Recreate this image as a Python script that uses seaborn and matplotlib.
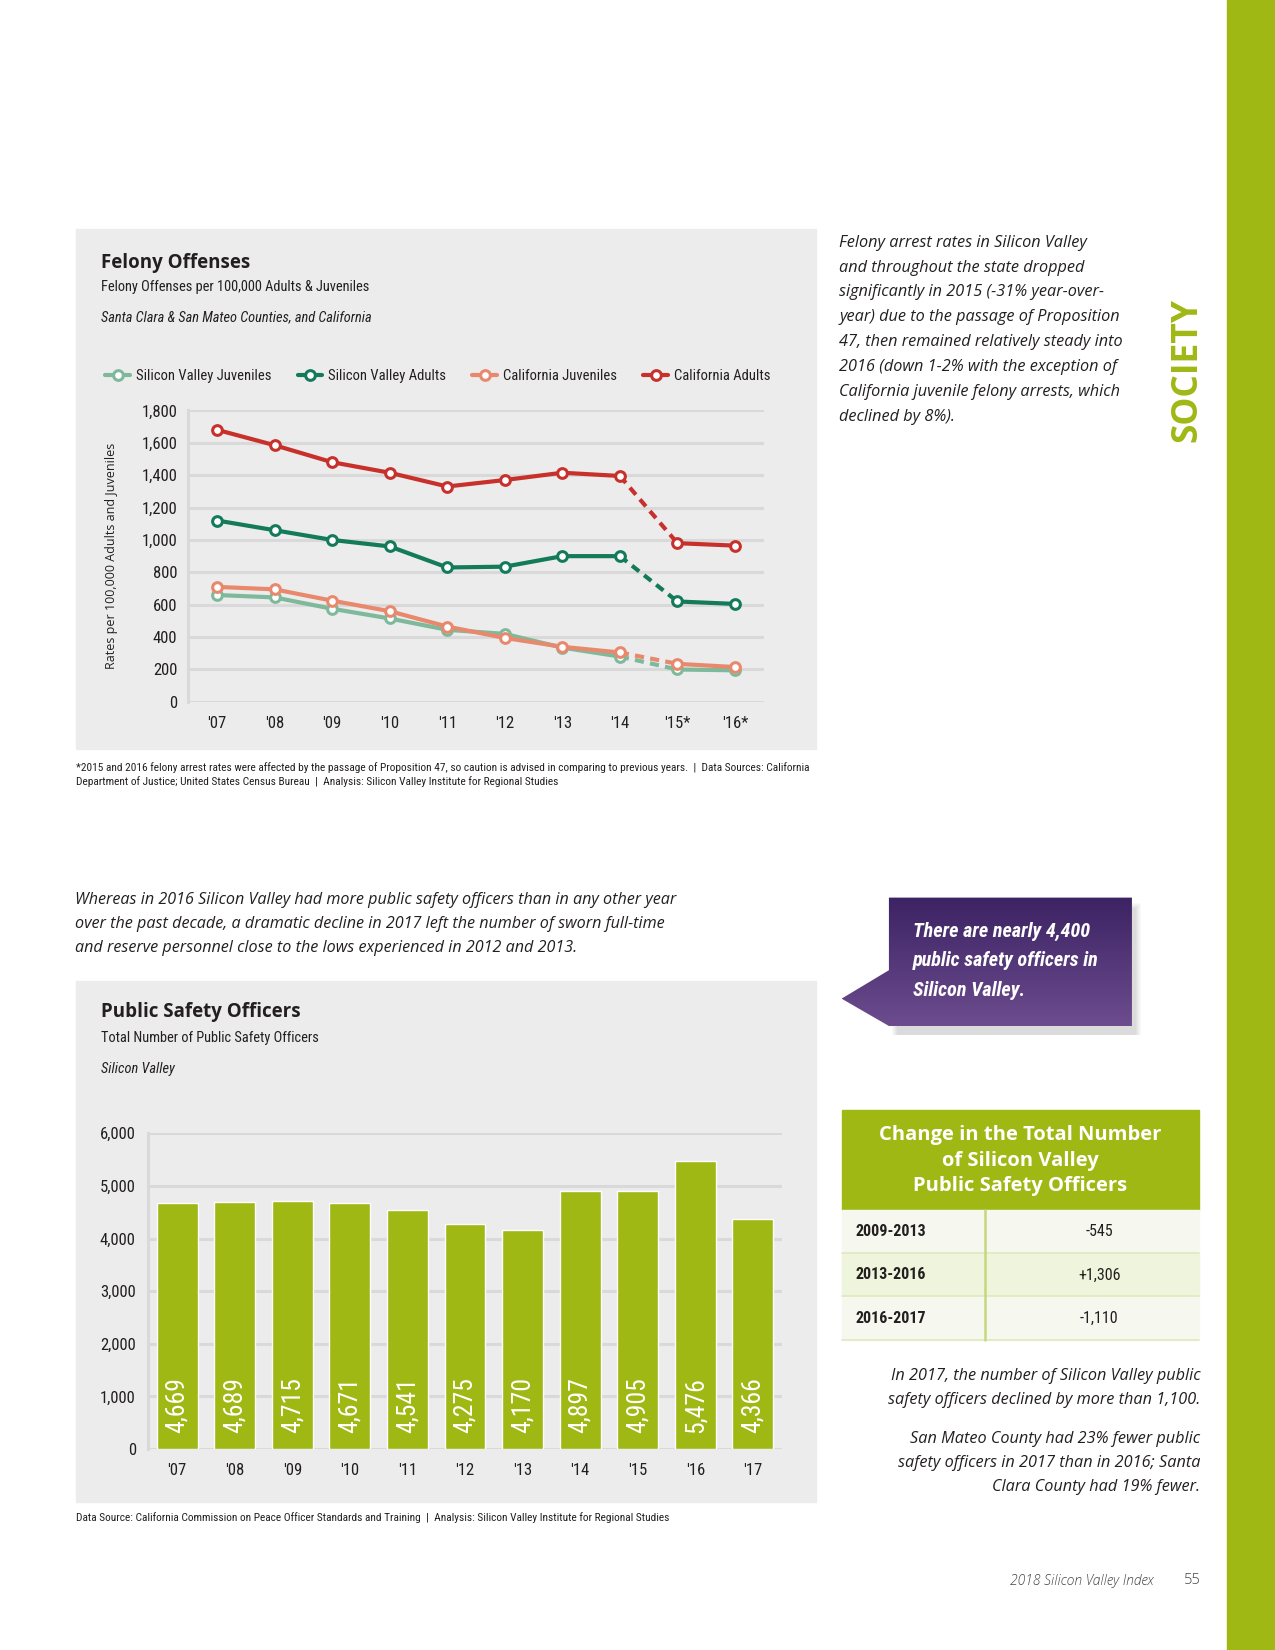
import numpy as np
import pandas as pd
import seaborn as sns
import matplotlib
matplotlib.use("Agg")
from matplotlib import pyplot as plt
from matplotlib.patches import Rectangle, Polygon
from matplotlib.lines import Line2D

# ---- felony offenses (per 100,000) ----
felony_years = ["'07", "'08", "'09", "'10", "'11", "'12", "'13", "'14", "'15*", "'16*"]
sv_juveniles = [660, 645, 575, 515, 445, 420, 335, 280, 200, 195]
sv_adults = [1120, 1060, 1000, 960, 830, 835, 900, 900, 620, 605]
ca_juveniles = [710, 695, 625, 560, 465, 395, 340, 305, 235, 215]
ca_adults = [1680, 1585, 1480, 1415, 1330, 1370, 1415, 1395, 980, 965]
series_names = ["Silicon Valley Juveniles", "Silicon Valley Adults",
                "California Juveniles", "California Adults"]

# ---- public safety officers ----
officer_years = ["'07", "'08", "'09", "'10", "'11", "'12", "'13", "'14", "'15", "'16", "'17"]
officers = [4669, 4689, 4715, 4671, 4541, 4275, 4170, 4897, 4905, 5476, 4366]

change_periods = ["2009-2013", "2013-2016", "2016-2017"]
change_values = ["-545", "+1,306", "-1,110"]

SERIES_COLORS = ["#7fb99b", "#137a5a", "#e8896d", "#c8312b"]
GREEN = "#a0b814"
PANEL = "#ececec"
GRID = "#d9d9d9"
TXT = "#231f20"
NARROW = ["Roboto Condensed", "DejaVu Sans"]
BODY = ["Open Sans", "DejaVu Sans"]

sns.set_style("white")
plt.rcParams["font.family"] = NARROW
plt.rcParams["font.stretch"] = "condensed"

# layout grid in reference pixels (page is W x H)
W, H = 1212, 1568


def box(x0, y0, x1, y1):
    return [x0 / W, 1 - y1 / H, (x1 - x0) / W, (y1 - y0) / H]


def body(x, y, s, **kw):
    opts = dict(fontsize=11.7, style="italic", family=BODY, fontstretch="normal",
                color=TXT, linespacing=1.68)
    opts.update(kw)
    return page.text(x, y, s, **opts)


fig = plt.figure(figsize=(12.75, 16.5), dpi=100)
page = fig.add_axes([0, 0, 1, 1], zorder=0)
page.set_xlim(0, W)
page.set_ylim(H, 0)
page.axis("off")

# chart panels + side stripe
page.add_patch(Rectangle((72, 218), 704, 494, color=PANEL, zorder=0))
page.add_patch(Rectangle((72, 932), 704, 495, color=PANEL, zorder=0))
page.add_patch(Rectangle((1166, 0), 46, H, color=GREEN, zorder=0))
page.text(1129, 352, "SOCIETY", rotation=90, ha="center", va="center", color=GREEN,
          fontsize=25.5, fontweight="bold", family=BODY, fontstretch="normal")


def style_axis(ax, pad):
    ax.set_facecolor("none")
    ax.yaxis.grid(True, color=GRID, lw=2.2)
    ax.xaxis.grid(False)
    ax.set_axisbelow(True)
    for s in ["top", "right", "bottom"]:
        ax.spines[s].set_visible(False)
    ax.spines["left"].set_color(GRID)
    ax.spines["left"].set_linewidth(2.2)
    ax.tick_params(length=0, labelsize=12, colors=TXT, pad=pad)
    ax.set_xlabel("")


# ---------------- Felony Offenses ----------------
page.text(96, 250, "Felony Offenses", fontsize=13.5, fontweight="bold", family=BODY,
          fontstretch="normal", color=TXT, va="center")
page.text(96, 273, "Felony Offenses per 100,000 Adults & Juveniles", fontsize=10.4,
          color=TXT, va="center")
page.text(96, 302, "Santa Clara & San Mateo Counties, and California", fontsize=10.4,
          style="italic", color=TXT, va="center")

ax1 = fig.add_axes(box(179, 390, 726, 667), zorder=1)
all_series = [sv_juveniles, sv_adults, ca_juveniles, ca_adults]
for vals, color in zip(all_series, SERIES_COLORS):
    df = pd.DataFrame({"x": range(len(vals)), "y": vals})
    mk = dict(marker="o", markersize=7, markerfacecolor="white",
              markeredgecolor=color, markeredgewidth=2.2)
    # dashed jump after Prop 47
    sns.lineplot(data=df.iloc[7:9], x="x", y="y", ax=ax1, color=color, lw=3,
                 linestyle=(0, (2.2, 1.5)))
    sns.lineplot(data=df.iloc[:8], x="x", y="y", ax=ax1, color=color, lw=3, **mk)
    sns.lineplot(data=df.iloc[8:], x="x", y="y", ax=ax1, color=color, lw=3, **mk)

ax1.set_xlim(-0.5, 9.5)
ax1.set_ylim(0, 1800)
ax1.set_xticks(range(len(felony_years)))
ax1.set_xticklabels(felony_years)
ax1.set_yticks(range(0, 1801, 200))
ax1.set_yticklabels([f"{v:,}" for v in range(0, 1801, 200)])
style_axis(ax1, 8)
ax1.tick_params(axis="x", pad=10)
ax1.set_ylabel("Rates per 100,000 Adults and Juveniles", fontsize=9, family=BODY,
               fontstretch="normal", color=TXT, labelpad=17)

handles = [Line2D([], [], color=c, lw=3, marker="o", markersize=7, markerfacecolor="white",
                  markeredgecolor=c, markeredgewidth=2.2) for c in SERIES_COLORS]
page.legend(handles, series_names, loc="center left", bbox_to_anchor=(100, 357),
            bbox_transform=page.transData, ncol=4, frameon=False, fontsize=10.5,
            handlelength=1.7, handletextpad=0.4, columnspacing=1.8,
            borderpad=0, borderaxespad=0, labelcolor=TXT)

page.text(72, 729, "*2015 and 2016 felony arrest rates were affected by the passage of Proposition 47, "
          "so caution is advised in comparing to previous years.  |  Data Sources: California",
          fontsize=8.2, color=TXT, va="center")
page.text(72, 743, "Department of Justice; United States Census Bureau  |  Analysis: Silicon Valley "
          "Institute for Regional Studies", fontsize=8.2, color=TXT, va="center")

body(798, 223, "Felony arrest rates in Silicon Valley\n"
     "and throughout the state dropped\n"
     "significantly in 2015 (-31% year-over-\n"
     "year) due to the passage of Proposition\n"
     "47, then remained relatively steady into\n"
     "2016 (down 1-2% with the exception of\n"
     "California juvenile felony arrests, which\n"
     "declined by 8%).", va="top", linespacing=1.74)

# ---------------- Public Safety Officers ----------------
body(71, 848, "Whereas in 2016 Silicon Valley had more public safety officers than in any other year\n"
     "over the past decade, a dramatic decline in 2017 left the number of sworn full-time\n"
     "and reserve personnel close to the lows experienced in 2012 and 2013.",
     va="top", linespacing=1.66, fontsize=11.6)

page.text(96, 962, "Public Safety Officers", fontsize=13.5, fontweight="bold", family=BODY,
          fontstretch="normal", color=TXT, va="center")
page.text(96, 986, "Total Number of Public Safety Officers", fontsize=10.4, color=TXT, va="center")
page.text(96, 1016, "Silicon Valley", fontsize=10.4, style="italic", color=TXT, va="center")

ax2 = fig.add_axes(box(141, 1077, 743, 1377), zorder=1)
df2 = pd.DataFrame({"year": officer_years, "officers": officers})
sns.barplot(data=df2, x="year", y="officers", color=GREEN, saturation=1, width=0.71, ax=ax2)
for i, v in enumerate(officers):
    ax2.text(i, 300, f"{v:,}", rotation=90, ha="center", va="bottom", color="white",
             fontsize=18.5)
ax2.set_xlim(-0.5, 10.5)
ax2.set_ylim(0, 6000)
ax2.set_yticks(range(0, 6001, 1000))
ax2.set_yticklabels([f"{v:,}" for v in range(0, 6001, 1000)])
style_axis(ax2, 9)
ax2.tick_params(axis="x", pad=10)
ax2.set_ylabel("")

page.text(72, 1442, "Data Source: California Commission on Peace Officer Standards and Training  |  "
          "Analysis: Silicon Valley Institute for Regional Studies", fontsize=8.2, color=TXT,
          va="center")

# callout box with gradient and soft shadow
for k in range(6):
    page.add_patch(Rectangle((845 + 3 + k, 853 + 5 + k), 231 + 6 - 2 * k, 122 + 4 - k,
                             color="#000000", alpha=0.025, lw=0, zorder=1))
call = Polygon([(845, 853), (1076, 853), (1076, 975), (845, 975), (800, 949), (845, 922)],
               closed=True, facecolor="none", edgecolor="none", zorder=2)
page.add_patch(call)
grad = np.linspace(0, 1, 100).reshape(-1, 1)
purple = matplotlib.colors.LinearSegmentedColormap.from_list("p", ["#3c2363", "#6c4c8e"])
img = page.imshow(grad, cmap=purple, extent=(800, 1076, 975, 853), aspect="auto", zorder=2)
img.set_clip_path(call)
page.set_xlim(0, W)
page.set_ylim(H, 0)
page.text(868, 913, "There are nearly 4,400\npublic safety officers in\nSilicon Valley.",
          fontsize=14.5, fontweight="bold", style="italic", color="white", va="center",
          linespacing=1.72, zorder=3)

# change table
page.add_patch(Rectangle((800, 1055), 340, 95, color=GREEN, zorder=1))
page.text(970, 1103, "Change in the Total Number\nof Silicon Valley\nPublic Safety Officers",
          ha="center", va="center", color="white", fontsize=14.5, fontweight="bold",
          family=BODY, fontstretch="normal", linespacing=1.38, zorder=2)
row_top = 1150
row_h = 41
for i, (period, val) in enumerate(zip(change_periods, change_values)):
    y0 = row_top + i * row_h
    page.add_patch(Rectangle((800, y0), 340, row_h, color="#eff4dc" if i % 2 else "#f6f8ef",
                             zorder=1))
    page.plot([800, 1140], [y0 + row_h, y0 + row_h], color="#dfe9bd", lw=1.2, zorder=2)
    page.text(813, y0 + row_h / 2, period, fontsize=11.5, fontweight="bold", color=TXT,
              va="center", zorder=3)
    page.text(1045, y0 + row_h / 2, val, fontsize=11.5, color=TXT, ha="center",
              va="center", zorder=3)
page.plot([936, 936], [row_top, row_top + 3 * row_h], color="#c5d77c", lw=1.8, zorder=2)

body(1141, 1319, "In 2017, the number of Silicon Valley public\n"
     "safety officers declined by more than 1,100.", ha="right", va="center")
body(1141, 1390, "San Mateo County had 23% fewer public\n"
     "safety officers in 2017 than in 2016; Santa\n"
     "Clara County had 19% fewer.", ha="right", va="center")

page.text(1097, 1502, "2018 Silicon Valley Index", fontsize=10, style="italic", family=BODY,
          fontstretch="normal", color="#444444", ha="right", va="center", fontweight="light")
page.text(1141, 1502, "55", fontsize=10.5, family=BODY, fontstretch="normal", color="#444444",
          ha="right", va="center", fontweight="light")

fig.savefig("out.png", dpi=100)
